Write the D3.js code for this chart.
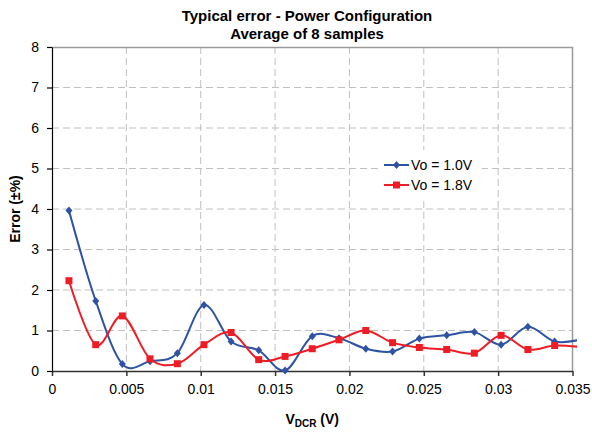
<!DOCTYPE html>
<html>
<head>
<meta charset="utf-8">
<script src="https://cdn.jsdelivr.net/npm/d3@7"></script>
<style>
  body { margin: 0; background: #fff; }
  text { font-family: "Liberation Sans", Arial, sans-serif; fill: #000; }
  .axis text { font-size: 14px; }
  .grid line { stroke: #c0c0c0; stroke-dasharray: 7,4; }
  .title { font-weight: bold; font-size: 15px; }
  .axis-title { font-weight: bold; font-size: 14px; }
</style>
</head>
<body>
<div id="chart"></div>
<script>
// V_DCR sample positions (V); the last one sits just past the axis end
const vdcr = [0.00114, 0.00294, 0.00473, 0.00659, 0.00843, 0.01022, 0.01204, 0.0139, 0.01567, 0.0175,
              0.0193, 0.0211, 0.0229, 0.0247, 0.02654, 0.0284, 0.0302, 0.0320, 0.0338, 0.0356];
const errVo10 = [3.96, 1.73, 0.17, 0.24, 0.44, 1.63, 0.73, 0.51, 0.01, 0.86,
                 0.81, 0.55, 0.48, 0.80, 0.88, 0.96, 0.65, 1.09, 0.73, 0.78];
const errVo18 = [2.23, 0.65, 1.36, 0.30, 0.18, 0.65, 0.95, 0.28, 0.36, 0.55,
                 0.77, 1.00, 0.70, 0.58, 0.53, 0.44, 0.88, 0.53, 0.63, 0.59];
const seriesNames = ['Vo = 1.0V', 'Vo = 1.8V'];
const xTicks = [0, 0.005, 0.01, 0.015, 0.02, 0.025, 0.03, 0.035];
const yTicks = [0, 1, 2, 3, 4, 5, 6, 7, 8];

class LinePlot {

  constructor(_config, _series) {
    this.config = {
      parentElement: _config.parentElement,
      containerWidth: _config.containerWidth || 592,
      containerHeight: _config.containerHeight || 432,
      margin: _config.margin || {top: 47, right: 19.5, bottom: 61, left: 52}
    }
    this.series = _series;
    this.initVis();
  }

  initVis() {
    let vis = this;

    vis.width = vis.config.containerWidth - vis.config.margin.left - vis.config.margin.right;
    vis.height = vis.config.containerHeight - vis.config.margin.top - vis.config.margin.bottom;

    vis.xScale = d3.scaleLinear().domain([0, 0.035]).range([0, vis.width]);
    vis.yScale = d3.scaleLinear().domain([0, 8]).range([vis.height, 0]);

    vis.svg = d3.select(vis.config.parentElement).append('svg')
        .attr('width', vis.config.containerWidth)
        .attr('height', vis.config.containerHeight);

    vis.chart = vis.svg.append('g')
        .attr('transform', `translate(${vis.config.margin.left},${vis.config.margin.top})`);

    // Titles
    vis.svg.append('text').attr('class', 'title')
        .attr('x', 307).attr('y', 21).attr('text-anchor', 'middle')
        .text('Typical error - Power Configuration');
    vis.svg.append('text').attr('class', 'title')
        .attr('x', 307).attr('y', 39).attr('text-anchor', 'middle')
        .text('Average of 8 samples');

    vis.svg.append('text').attr('class', 'axis-title')
        .attr('transform', `translate(20,${vis.config.margin.top + vis.height / 2}) rotate(-90)`)
        .attr('text-anchor', 'middle')
        .text('Error (±%)');

    const xt = vis.svg.append('text').attr('class', 'axis-title')
        .attr('x', vis.config.margin.left + vis.width / 2).attr('y', 424)
        .attr('text-anchor', 'middle');
    xt.append('tspan').text('V');
    xt.append('tspan').attr('font-size', '10px').attr('dy', 3).text('DCR');
    xt.append('tspan').attr('dy', -3).text(' (V)');

    vis.clip = vis.svg.append('defs').append('clipPath').attr('id', 'plot-clip')
        .append('rect')
        .attr('x', -10).attr('y', -20)
        .attr('width', vis.width + 14.5).attr('height', vis.height + 40);
  }

  renderVis() {
    let vis = this;

    // Gridlines
    vis.chart.append('g').attr('class', 'grid')
        .selectAll('line').data(xTicks.slice(1, -1)).join('line')
        .attr('x1', d => vis.xScale(d)).attr('x2', d => vis.xScale(d))
        .attr('y1', 0).attr('y2', vis.height);
    vis.chart.append('g').attr('class', 'grid')
        .selectAll('line').data(yTicks.slice(1, -1)).join('line')
        .attr('x1', 0).attr('x2', vis.width)
        .attr('y1', d => vis.yScale(d)).attr('y2', d => vis.yScale(d));

    // Plot frame (top + right)
    vis.chart.append('path')
        .attr('d', `M0,0.5H${vis.width}V${vis.height}`)
        .attr('fill', 'none').attr('stroke', '#9a9a9a').attr('stroke-width', 1.5);

    // Axes
    vis.chart.append('g').attr('class', 'axis')
        .attr('transform', `translate(0,${vis.height})`)
        .call(d3.axisBottom(vis.xScale).tickValues(xTicks).tickFormat(d => d).tickSize(5).tickSizeOuter(0).tickPadding(8))
        .call(g => g.selectAll('line, .domain').attr('stroke', '#333').attr('stroke-width', 1.5));
    vis.chart.append('g').attr('class', 'axis')
        .call(d3.axisLeft(vis.yScale).tickValues(yTicks).tickSize(5).tickSizeOuter(0).tickPadding(8))
        .call(g => g.selectAll('line, .domain').attr('stroke', '#000').attr('stroke-width', 1.2));

    const line = d3.line()
        .x(d => vis.xScale(d.x))
        .y(d => vis.yScale(d.y))
        .curve(d3.curveCardinal.tension(0));

    const plot = vis.chart.append('g').attr('clip-path', 'url(#plot-clip)');

    vis.series.forEach(s => {
      const pts = vdcr.map((x, i) => ({x: x, y: s.values[i]}));
      plot.append('path')
          .attr('d', line(pts))
          .attr('fill', 'none')
          .attr('stroke', s.color)
          .attr('stroke-width', 2);
      plot.selectAll(null).data(pts).join('path')
          .attr('transform', d => `translate(${vis.xScale(d.x)},${vis.yScale(d.y)})`)
          .attr('d', s.marker)
          .attr('fill', s.color);
    });

    // Legend
    const legend = vis.svg.append('g').attr('transform', 'translate(378,150)');
    legend.append('rect').attr('width', 104).attr('height', 48).attr('fill', '#fff');
    vis.series.forEach((s, i) => {
      const row = legend.append('g').attr('transform', `translate(6,${15 + i * 20})`);
      row.append('line').attr('x1', 0).attr('x2', 25)
          .attr('stroke', s.color).attr('stroke-width', 2);
      row.append('path').attr('transform', 'translate(12.5,0)').attr('d', s.marker).attr('fill', s.color);
      row.append('text').attr('x', 27).attr('dy', '0.36em')
          .style('font-size', '14px').text(s.name);
    });
  }
}

const diamond = 'M0,-4L3.5,0L0,4L-3.5,0Z';
const square = 'M-3.5,-3.5H3.5V3.5H-3.5Z';

const plotChart = new LinePlot({parentElement: '#chart'}, [
  {name: seriesNames[0], values: errVo10, color: '#2f53a3', marker: diamond},
  {name: seriesNames[1], values: errVo18, color: '#ee1c25', marker: square}
]);
plotChart.renderVis();
</script>
</body>
</html>
